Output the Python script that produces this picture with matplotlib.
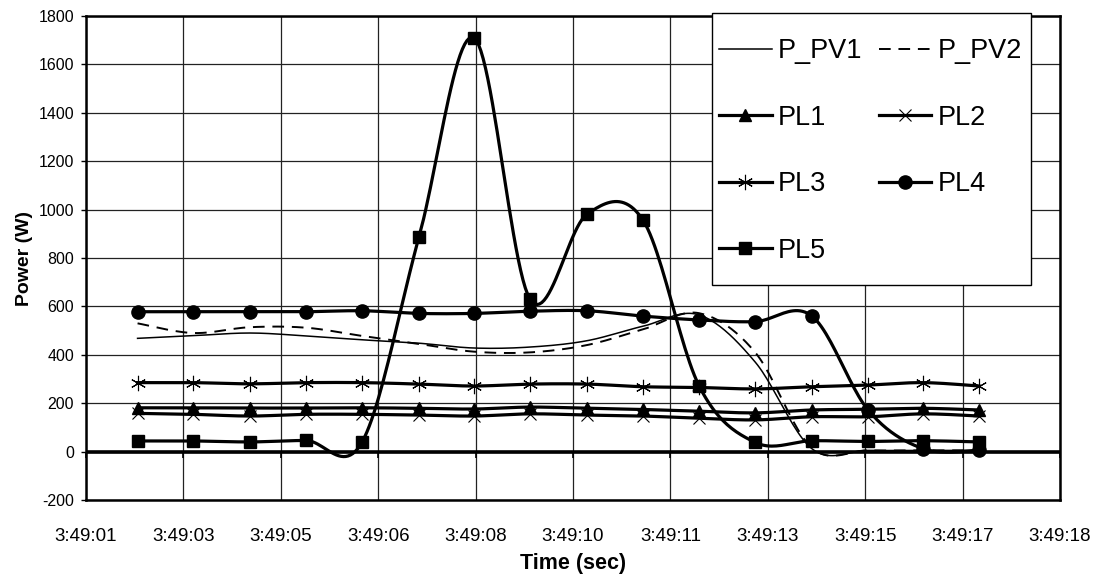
import numpy as np
import matplotlib
matplotlib.use('Agg')
import matplotlib.pyplot as plt
from matplotlib.patches import Rectangle

plt.rcParams['font.family'] = ['Liberation Sans', 'DejaVu Sans']
plt.rcParams['axes.unicode_minus'] = False

# seconds after 3:49:00
t = [2.15, 3.12, 4.11, 5.09, 6.07, 7.06, 8.02, 9.00,
     9.99, 10.97, 11.95, 12.93, 13.92, 14.90, 15.86, 16.84]

p_pv1 = [468, 479, 490, 478, 462, 448, 428, 432, 458, 518, 565, 370, 12, 5, 5, 5]
p_pv2 = [530, 490, 514, 512, 478, 445, 413, 410, 440, 505, 572, 410, 15, 5, 5, 5]
pl1 = [181, 181, 180, 180, 181, 179, 176, 184, 179, 174, 167, 160, 172, 175, 179, 172]
pl2 = [158, 154, 147, 154, 154, 151, 147, 156, 151, 147, 138, 131, 144, 144, 156, 147]
pl3 = [285, 285, 280, 285, 285, 279, 271, 279, 279, 268, 265, 259, 268, 275, 285, 271]
pl4 = [578, 578, 578, 578, 582, 571, 571, 580, 582, 560, 544, 537, 560, 172, 12, 5]
pl5 = [44, 44, 40, 46, 40, 885, 1710, 630, 980, 957, 272, 38, 45, 42, 45, 40]

x_labels = ['3:49:01', '3:49:03', '3:49:05', '3:49:06', '3:49:08', '3:49:10',
            '3:49:11', '3:49:13', '3:49:15', '3:49:17', '3:49:18']
x_lo, x_hi = 1.25, 18.25


def smooth(x, y, n=24):
    # Excel style smoothed line (Catmull-Rom bezier through the points)
    x = np.asarray(x, float)
    y = np.asarray(y, float)
    s = np.linspace(0, 1, n, endpoint=False)[:, None]
    pts = np.column_stack([x, y])
    out = []
    for i in range(len(pts) - 1):
        p0 = pts[i - 1] if i > 0 else pts[i]
        p1, p2 = pts[i], pts[i + 1]
        p3 = pts[i + 2] if i + 2 < len(pts) else pts[i + 1]
        c1 = p1 + (p2 - p0) / 6
        c2 = p2 - (p3 - p1) / 6
        seg = ((1 - s) ** 3 * p1 + 3 * (1 - s) ** 2 * s * c1
               + 3 * (1 - s) * s ** 2 * c2 + s ** 3 * p2)
        out.append(seg)
    out.append(pts[-1:])
    out = np.vstack(out)
    return out[:, 0], out[:, 1], list(range(0, len(out), n))


W, H = 1094, 581
fig = plt.figure(figsize=(W / 100, H / 100), dpi=100)
ax = fig.add_axes([86 / W, 1 - 500 / H, 974 / W, 484 / H])

series = [
    ('P_PV1', p_pv1, dict(color='black', lw=1.1, ls='-', marker=None)),
    ('PL1', pl1, dict(color='black', lw=2.3, marker='^', ms=8.5)),
    ('PL3', pl3, dict(color='black', lw=2.3, marker=(6, 2, 0), ms=11, mew=0.8)),
    ('PL5', pl5, dict(color='black', lw=2.3, marker='s', ms=9)),
    ('P_PV2', p_pv2, dict(color='black', lw=1.4, ls=(0, (6, 4)), marker=None)),
    ('PL2', pl2, dict(color='black', lw=2.3, marker='x', ms=8, mew=0.8)),
    ('PL4', pl4, dict(color='black', lw=2.3, marker='o', ms=9.5)),
]

handles = []
for name, vals, style in series:
    sx, sy, marks = smooth(t, vals)
    h, = ax.plot(sx, sy, label=name, markevery=marks, zorder=3, **style)
    handles.append(h)

ax.set_xlim(x_lo, x_hi)
ax.set_ylim(-200, 1800)
ax.set_yticks(np.arange(-200, 1801, 200))
xt = np.linspace(x_lo, x_hi, len(x_labels))
ax.set_xticks(xt)
ax.set_xticklabels(x_labels, fontsize=13.5)

ax.grid(True, color='#222222', linewidth=0.9)
ax.set_axisbelow(True)
ax.axhline(0, color='black', lw=2.6, zorder=2.5)
ax.plot(xt, np.zeros(len(xt)), ls='none', marker=3, ms=4, mew=1.2,
        color='black', zorder=2.5, clip_on=False)

for sp in ax.spines.values():
    sp.set_linewidth(1.8)
ax.tick_params(axis='x', length=0, pad=20)
ax.tick_params(axis='y', length=3.5, width=1, pad=5, labelsize=11.5)

ax.set_ylabel('Power (W)', fontsize=14, fontweight='bold', labelpad=4)
ax.set_xlabel('Time (sec)', fontsize=15.5, fontweight='bold', labelpad=6)

# legend box (Excel style, sticks out over the plot top)
box = Rectangle((711.5 / W, 1 - 285 / H), 319 / W, 272.5 / H,
                transform=fig.transFigure, facecolor='white',
                edgecolor='black', lw=1.0, zorder=4, clip_on=False)
ax.add_patch(box)
leg = ax.legend(handles=handles, ncol=2, loc='upper left',
                bbox_to_anchor=(719 / W, 1 - 38 / H),
                bbox_transform=fig.transFigure, borderaxespad=0, borderpad=0,
                fontsize=19.5, frameon=False,
                handlelength=1.95, handletextpad=0.22, labelspacing=1.5,
                columnspacing=0.6)
leg.set_zorder(5)

fig.savefig('out.png', dpi=100)
